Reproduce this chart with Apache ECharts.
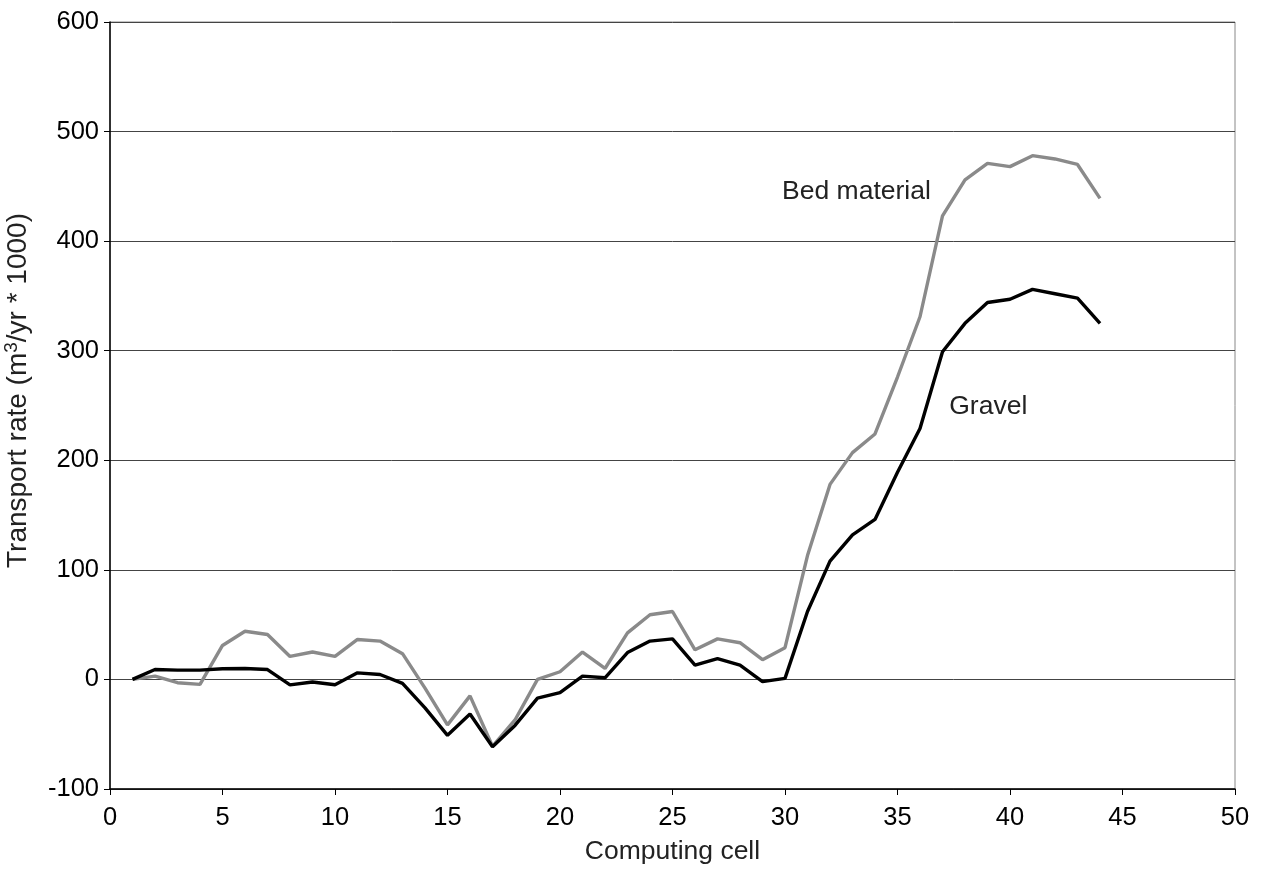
<!DOCTYPE html>
<html>
<head>
<meta charset="utf-8">
<title>Transport rate by computing cell</title>
<script src="https://cdn.jsdelivr.net/npm/echarts@6/dist/echarts.min.js"></script>
<style>
  html, body { margin: 0; padding: 0; background: #fff; }
  #chart { width: 1267px; height: 871px; }
</style>
</head>
<body>
<div id="chart"></div>
<script>
// Computing cells along the reach
const cells = [1, 2, 3, 4, 5, 6, 7, 8, 9, 10, 11, 12, 13, 14, 15, 16, 17, 18, 19, 20, 21, 22,
               23, 24, 25, 26, 27, 28, 29, 30, 31, 32, 33, 34, 35, 36, 37, 38, 39, 40, 41, 42, 43, 44];

// Transport rate, m3/yr * 1000
const bedMaterial = [0, 3, -3, -4.5, 31, 44, 41, 21, 25, 21, 36.5, 35, 23.5, -8, -41.5, -15, -61, -37, 0, 7, 25, 10,
                     42.5, 59, 62, 27, 37, 33.5, 18, 29, 113, 178, 207, 224, 276, 331, 423, 456, 471, 468, 478, 475, 470, 439];
const gravel = [0, 9, 8.5, 8.5, 9.7, 10, 9, -5, -2.4, -4.8, 6, 4.5, -3.6, -26, -51, -31.5, -61.5, -42, -17, -12, 3, 1.5,
                24.5, 35, 37, 13, 19, 13, -2, 1, 62, 108, 132, 146, 189, 229, 299, 325, 344, 347, 356, 352, 348, 325];

const xTicks = [0, 5, 10, 15, 20, 25, 30, 35, 40, 45, 50];
const yTicks = [-100, 0, 100, 200, 300, 400, 500, 600];

const FONT = 'Liberation Sans, Arial, Helvetica, sans-serif';

const pairs = (ys) => cells.map((c, i) => [c, ys[i]]);

// In-plot series annotation, anchored at a data coordinate
const seriesLabel = (coord, text) => ({
  symbol: 'circle',
  symbolSize: 0,
  silent: true,
  data: [{
    coord: coord,
    label: {
      show: true,
      position: 'right',
      distance: 0,
      formatter: text,
      color: '#222',
      fontFamily: FONT,
      fontSize: 26.5
    }
  }]
});

const chart = echarts.init(document.getElementById('chart'), null, { renderer: 'canvas' });

chart.setOption({
  backgroundColor: '#fff',
  animation: false,
  grid: {
    left: 110, top: 22, right: 32, bottom: 82,
    outerBoundsMode: 'none',
    containLabel: false,
    show: true, borderColor: '#888', borderWidth: 1
  },
  xAxis: {
    type: 'value',
    min: xTicks[0], max: xTicks[xTicks.length - 1], interval: 5,
    name: 'Computing cell',
    nameLocation: 'middle',
    nameGap: 49,
    nameTextStyle: { color: '#222', fontFamily: FONT, fontSize: 26.5 },
    axisLine: { onZero: false, lineStyle: { color: '#000', width: 1.5 } },
    axisTick: { show: true, length: 6, lineStyle: { color: '#000', width: 1 } },
    axisLabel: { color: '#000', fontFamily: FONT, fontSize: 25.5, margin: 16 },
    splitLine: { show: false }
  },
  yAxis: {
    type: 'value',
    min: yTicks[0], max: yTicks[yTicks.length - 1], interval: 100,
    name: 'Transport rate (m{sup|3}/yr * 1000)',
    nameLocation: 'middle',
    nameGap: 76,
    nameTextStyle: {
      color: '#222', fontFamily: FONT, fontSize: 28,
      padding: [0, 0, 0, 30],
      rich: {
        sup: { fontFamily: FONT, fontSize: 19, color: '#222', padding: [0, 0, 13, 0] }
      }
    },
    axisLine: { show: true, lineStyle: { color: '#000', width: 1.5 } },
    axisTick: { show: true, length: 6, lineStyle: { color: '#000', width: 1 } },
    axisLabel: { color: '#000', fontFamily: FONT, fontSize: 25.5, margin: 11 },
    splitLine: { show: true, lineStyle: { color: '#444', width: 1 } }
  },
  series: [
    {
      name: 'Bed material',
      type: 'line',
      data: pairs(bedMaterial),
      showSymbol: false,
      lineStyle: { color: '#8a8a8a', width: 3.4 },
      itemStyle: { color: '#8a8a8a' },
      markPoint: seriesLabel([29.87, 445], 'Bed material')
    },
    {
      name: 'Gravel',
      type: 'line',
      data: pairs(gravel),
      showSymbol: false,
      lineStyle: { color: '#000', width: 3.4 },
      itemStyle: { color: '#000' },
      markPoint: seriesLabel([37.3, 249], 'Gravel')
    }
  ]
});
</script>
</body>
</html>
